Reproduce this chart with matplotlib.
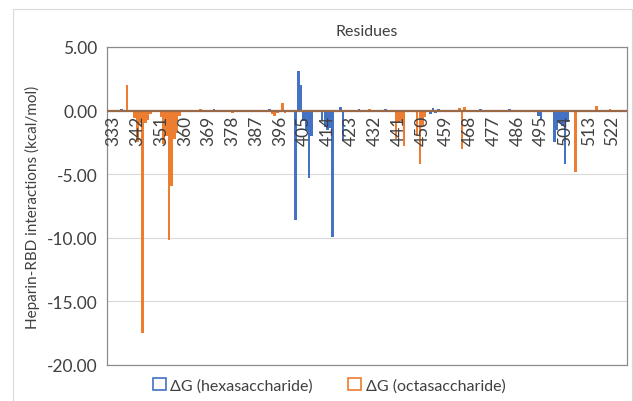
import matplotlib.pyplot as plt
import numpy as np
from matplotlib.patches import Patch, Rectangle

# per-residue binding energy contributions (kcal/mol); residues not listed are ~0
residues = np.arange(331, 528)
tick_residues = np.arange(333, 523, 9)

hexa_res = [336, 350, 371, 383, 392, 402, 403, 404, 405, 406, 407, 408, 412, 413,
            414, 415, 416, 419, 420, 426, 436, 453, 454, 455, 456, 472, 483,
            494, 495, 500, 501, 502, 503, 504, 505]
hexa_dg = [0.1, -0.1, 0.1, -0.1, 0.1, -8.6, 3.1, 2.0, -0.8, -1.6, -5.3, -2.0, -0.8, -1.3,
           -1.5, -1.4, -9.9, 0.3, -2.3, 0.1, 0.15, -0.3, 0.2, -0.2, 0.1, 0.1, 0.15,
           -0.4, -0.7, -2.5, -1.5, -1.0, -1.2, -4.2, -0.9]

octa_res = [338, 341, 342, 343, 344, 345, 346, 347, 351, 352, 353, 354, 355, 356,
            357, 358, 366, 378, 393, 394, 395, 397, 398, 430, 440, 441, 442, 443,
            448, 449, 450, 451, 464, 465, 466, 490, 508, 516, 521]
octa_dg = [2.0, -0.6, -2.5, -1.0, -17.5, -1.0, -0.7, -0.3, -0.5, -2.6, -2.0, -10.2, -5.9, -2.2,
           -1.8, -0.4, 0.1, -0.15, -0.3, -0.4, -0.2, 0.6, -0.2, 0.1, -2.2, -1.0, -0.8, -2.8,
           -2.0, -4.2, -1.2, -0.5, 0.2, -3.0, 0.3, -0.1, -4.8, 0.4, 0.1]

hexa = np.zeros(len(residues))
octa = np.zeros(len(residues))
hexa[np.searchsorted(residues, hexa_res)] = hexa_dg
octa[np.searchsorted(residues, octa_res)] = octa_dg

blue = '#4472C4'
orange = '#ED7D31'

plt.rcParams['font.family'] = ['Lato', 'DejaVu Sans']

fig = plt.figure(figsize=(6.33, 4.02), dpi=100)
ax = fig.add_axes([107 / 633, 1 - 366 / 402, 520 / 633, 318 / 402])

ax.bar(residues, hexa, width=0.95, color=blue, zorder=3)
ax.bar(residues, octa, width=0.95, color=orange, zorder=3)

ax.set_xlim(330.5, 527.5)
ax.set_ylim(-20, 5)
ax.set_yticks(np.arange(-20, 5.1, 5))
ax.set_yticklabels(['%.2f' % v for v in np.arange(-20, 5.1, 5)], fontsize=12.5, color='#404040')
ax.yaxis.grid(True, color='#d9d9d9', lw=0.8, zorder=0)
ax.set_xticks([])
ax.tick_params(axis='y', length=0, pad=7)
for s in ax.spines.values():
    s.set_color('#8c8c8c')
    s.set_linewidth(0.9)

# category axis drawn through zero, labels hanging below it
ax.axhline(0, color='#9a6a48', lw=1.6, zorder=4)
for r in tick_residues:
    ax.annotate(str(r), (r, 0), xytext=(0, -3), textcoords='offset points',
                rotation=90, ha='center', va='top', fontsize=12.5, color='#404040',
                zorder=5)

ax.set_ylabel('Heparin-RBD interactions (kcal/mol)', fontsize=11, color='#404040',
              labelpad=5)
ax.set_title('Residues', fontsize=11.5, color='#404040', pad=9)

handles = [Patch(facecolor='white', edgecolor=blue, lw=1.2),
           Patch(facecolor='white', edgecolor=orange, lw=1.2)]
fig.legend(handles, ['ΔG (hexasaccharide)', 'ΔG (octasaccharide)'], loc='center',
           bbox_to_anchor=(0.52, 0.04), ncol=2, frameon=False, fontsize=11.5,
           handlelength=0.8, handleheight=0.8, handletextpad=0.3, columnspacing=2.2,
           labelcolor='#404040')

fig.patches.append(Rectangle((13 / 633, -0.01), 619 / 633, 1.01 - 10 / 402,
                             transform=fig.transFigure, fill=False,
                             edgecolor='#d9d9d9', lw=0.8))

fig.savefig('out.png', dpi=100)
